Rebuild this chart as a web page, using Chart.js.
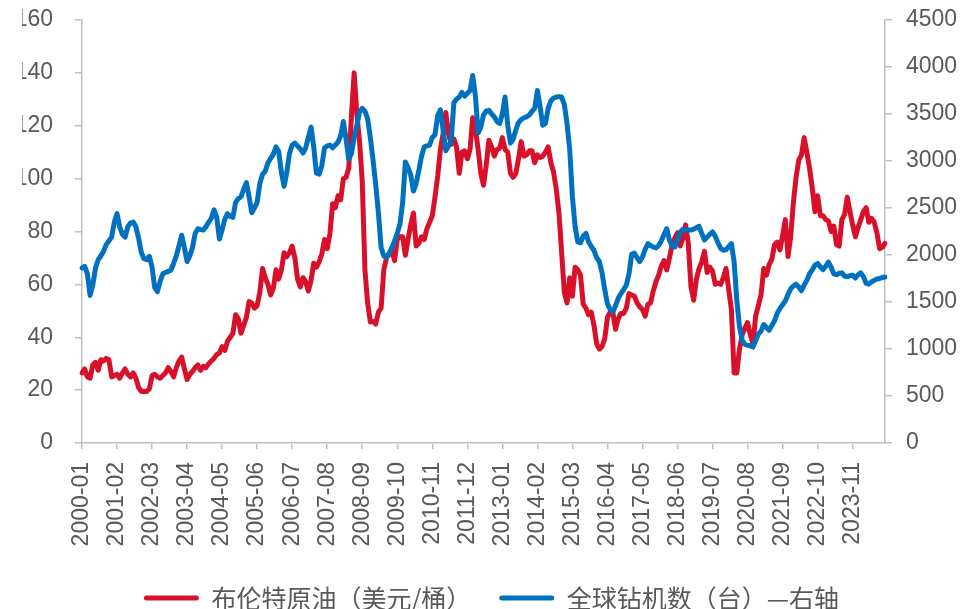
<!DOCTYPE html>
<html><head><meta charset="utf-8">
<script src="https://cdn.jsdelivr.net/npm/chart.js@4.4.1/dist/chart.umd.min.js"></script>
<style>html,body{margin:0;padding:0;background:#fff}#wrap{width:961px;height:609px;position:relative}</style>
</head><body><div id="wrap"><canvas id="c"></canvas></div>
<script>
// monthly categories 2000-01 .. 2024-11
const startYear = 2000;
const monthCount = 299;
const categories = [];
for (let i = 0; i < monthCount; i++) {
  const y = startYear + Math.floor(i / 12), m = i % 12 + 1;
  categories.push(y + '-' + String(m).padStart(2, '0'));
}
const tickLabels = ['2000-01','2001-02','2002-03','2003-04','2004-05','2005-06','2006-07','2007-08','2008-09','2009-10','2010-11','2011-12','2013-01','2014-02','2015-03','2016-04','2017-05','2018-06','2019-07','2020-08','2021-09','2022-10','2023-11'];
const seriesNames = ['布伦特原油（美元/桶）', '全球钻机数（台）—右轴'];

// Brent crude, USD/bbl (left axis)
const brent = [
  26.5, 28, 25, 24.5, 29.5, 30.5, 27.5, 31.5, 31, 32, 31.5, 25,
  25.5, 26, 24.5, 26.5, 28, 26, 25, 26.5, 24.5, 21, 19.5, 19.5,
  19.5, 20.5, 25.5, 26, 25, 24.5, 25.5, 26.5, 28.5, 27, 25, 28.5,
  31, 32.5, 28, 24, 26, 27, 28.5, 29.5, 27.5, 29, 28.5, 30,
  31, 32, 33.5, 34, 36.5, 35, 38.5, 40, 41.5, 48.5, 47, 41.5,
  44.5, 47.5, 53.5, 53, 51, 52, 57, 66, 62.5, 60, 56, 58.5,
  65.5, 62, 65.5, 72, 70.5, 72, 74.5, 70, 62, 59, 62.5, 61,
  57.5, 61.5, 68, 66.5, 68.5, 71.5, 77, 73.5, 79, 90.5, 89, 93.5,
  92, 100, 100.5, 104, 124, 140, 124.5, 114, 99, 65.5, 53, 45.8,
  46, 45, 49.5, 51, 65.5, 70, 71.5, 72.5, 69, 77, 78, 78,
  71, 77, 82.5, 87, 74.5, 75.5, 78, 77, 81, 83.5, 86, 93,
  101, 111, 117, 125, 117, 113, 115, 112, 102, 110, 110.5, 107.5,
  111, 123, 119, 111, 102, 97.5, 105, 114.5, 112, 108.5, 111, 111.5,
  115.5, 111, 110, 102, 100.5, 102, 107.5, 114, 108.5, 109, 110.5, 110.5,
  106, 109, 108, 108.5, 110, 112, 106, 102.5, 96, 87, 72, 57,
  53, 62.5, 55.5, 66.5, 65.5, 63.5, 52.5, 51, 48.5, 49.5, 44.5, 37.5,
  35.5, 36.5, 39.5, 47.5, 49.5, 49.5, 43, 47, 49, 49, 51, 56.5,
  56, 55.5, 53, 51.5, 50.5, 48, 52.5, 53, 57.5, 61, 63.5, 67,
  69, 65.5, 70, 75, 77.5, 79.5, 74.5, 77.5, 82.5, 75.5, 59, 54,
  62, 66, 68.5, 72.5, 64.5, 66.5, 65, 60, 60.5, 60, 62.5, 66,
  58, 50.5, 26.5, 26.5, 35.5, 41, 43.5, 45.5, 41, 37.5, 48, 52,
  56, 66, 63.5, 67.5, 69.5, 75, 76, 73, 78.5, 84.5, 70.5, 78,
  91, 100.5, 107, 109, 115.5, 110, 104, 96.5, 87.5, 93.5, 86, 86,
  84.5, 84, 80, 82, 75, 74.5, 84.5, 86.5, 93, 87.5, 82.5, 78,
  81.5, 84.5, 87.5, 89, 83.5, 85, 83.5, 79.5, 73.5, 74, 75.5
];

// Global rig count (right axis)
const rigs = [
  1862, 1880, 1800, 1570, 1680, 1860, 1950, 1990, 2040, 2110, 2150, 2190,
  2350, 2440, 2300, 2220, 2190, 2300, 2340, 2350, 2300, 2180, 2030, 1960,
  1950, 1985, 1870, 1650, 1610, 1720, 1800, 1815, 1825, 1840, 1910, 1990,
  2100, 2210, 2080, 1930, 1990, 2080, 2230, 2280, 2270, 2265, 2300, 2350,
  2390, 2480, 2400, 2170, 2270, 2380, 2440, 2410, 2400, 2560, 2600, 2620,
  2700, 2770, 2620, 2450, 2500, 2560, 2760, 2860, 2890, 2980, 3030, 3070,
  3150, 3100, 2880, 2730, 2880, 3080, 3170, 3190, 3160, 3130, 3085, 3140,
  3250, 3360, 3150, 2870, 2860, 2950, 3140, 3160, 3170, 3140, 3170, 3200,
  3270, 3420, 3230, 3020, 3080, 3250, 3380, 3520, 3560, 3530, 3450, 3250,
  3010, 2750, 2450, 2080, 1990, 1975, 2020, 2080, 2150, 2230, 2330, 2560,
  2990, 2930, 2850, 2680, 2760, 2900, 3050, 3150, 3160, 3170, 3250, 3280,
  3480, 3545, 3330, 3110, 3160, 3210, 3620, 3660, 3680, 3730, 3690, 3720,
  3750, 3910, 3690, 3300, 3360, 3490, 3530, 3540, 3500, 3470, 3420, 3400,
  3500, 3680, 3380, 3190, 3230, 3330, 3410, 3440, 3460, 3470, 3490, 3530,
  3560, 3750, 3580, 3380, 3400, 3560, 3640, 3670, 3680, 3685, 3680, 3600,
  3400, 3120, 2620, 2300, 2140, 2130, 2200, 2230, 2140, 2090, 2050, 1970,
  1930, 1810, 1630, 1480, 1420, 1395, 1460, 1540, 1590, 1630, 1680, 1800,
  2010, 2020, 1970, 1930, 1980, 2060, 2120, 2100, 2085, 2075, 2100, 2150,
  2220, 2280, 2160, 2090, 2085, 2160, 2240, 2275, 2270, 2265, 2265, 2275,
  2290, 2305, 2230, 2160, 2190, 2220, 2245, 2200, 2130, 2070, 2050, 2055,
  2090, 2120, 1930, 1520, 1240, 1090, 1050, 1040, 1035, 1020, 1090, 1160,
  1190, 1260, 1230, 1200, 1250, 1300, 1380, 1430, 1470, 1510, 1580, 1640,
  1670, 1690, 1660, 1620, 1680, 1730, 1800, 1840, 1890, 1910, 1875, 1845,
  1880, 1925, 1870, 1800, 1790, 1805, 1810, 1775, 1770, 1780, 1785, 1755,
  1790, 1810, 1770, 1700, 1690, 1715, 1730, 1745, 1750, 1760, 1766
];

const NUM_FONT = '"Liberation Sans", Arial, "Noto Sans CJK SC", sans-serif';
const CJK_FONT = '"Noto Sans CJK SC", "Liberation Sans", sans-serif';
const AXIS = '#BFBFBF';
const TXT = '#595959';

function fixVertical(width) {
  return (s) => { s.width = width; s.paddingTop = 0; s.paddingBottom = 0; };
}

new Chart(document.getElementById('c'), {
  type: 'line',
  data: {
    labels: categories,
    datasets: [
      { label: seriesNames[0], data: brent, yAxisID: 'y', borderColor: '#D8102A', backgroundColor: '#D8102A',
        borderWidth: 5, pointRadius: 0, tension: 0, order: 2, borderJoinStyle: 'round', borderCapStyle: 'round' },
      { label: seriesNames[1], data: rigs, yAxisID: 'y1', borderColor: '#0070C0', backgroundColor: '#0070C0',
        borderWidth: 5, pointRadius: 0, tension: 0, order: 1, borderJoinStyle: 'round', borderCapStyle: 'round' }
    ]
  },
  options: {
    responsive: true, maintainAspectRatio: false, animation: false,
    layout: { padding: { left: 22, right: 0, top: 20, bottom: -11.5 } },
    plugins: {
      tooltip: { enabled: false },
      legend: {
        position: 'bottom', align: 'center',
        labels: {
          font: { family: CJK_FONT, size: 25 }, color: TXT,
          boxWidth: 55, boxHeight: 5, padding: 28,
          useBorderRadius: true, borderRadius: 2.5,
          sort: (a, b) => a.datasetIndex - b.datasetIndex,
          generateLabels: (chart) => Chart.defaults.plugins.legend.labels.generateLabels(chart).map(l => Object.assign(l, { lineWidth: 0 }))
        }
      }
    },
    scales: {
      x: {
        ticks: {
          autoSkip: false, minRotation: 90, maxRotation: 90, padding: 13, color: TXT,
          font: { family: NUM_FONT, size: 23 },
          callback: (v, i) => tickLabels.includes(categories[i]) ? categories[i] : ''
        },
        grid: {
          drawOnChartArea: false, drawTicks: true, tickLength: 6, lineWidth: 1.5,
          color: (ctx) => (ctx.index !== undefined && tickLabels.includes(categories[ctx.index])) ? AXIS : 'rgba(0,0,0,0)'
        },
        border: { display: true, color: AXIS, width: 1.5 },
        afterFit: (s) => { s.height = 114.5; }
      },
      y: {
        type: 'linear', position: 'left', min: 0, max: 160,
        ticks: { stepSize: 20, padding: 22, color: TXT, font: { family: NUM_FONT, size: 23 }, callback: (v) => String(v) },
        grid: { drawOnChartArea: false, tickLength: 7, color: AXIS, lineWidth: 1.5 },
        border: { display: true, color: AXIS, width: 1.5 },
        afterFit: fixVertical(60)
      },
      y1: {
        type: 'linear', position: 'right', min: 0, max: 4500,
        ticks: { stepSize: 500, padding: 14, color: TXT, font: { family: NUM_FONT, size: 23 }, callback: (v) => String(v) },
        grid: { drawOnChartArea: false, tickLength: 7, color: AXIS, lineWidth: 1.5 },
        border: { display: true, color: AXIS, width: 1.5 },
        afterFit: fixVertical(76)
      }
    }
  }
});
</script>
</body></html>
